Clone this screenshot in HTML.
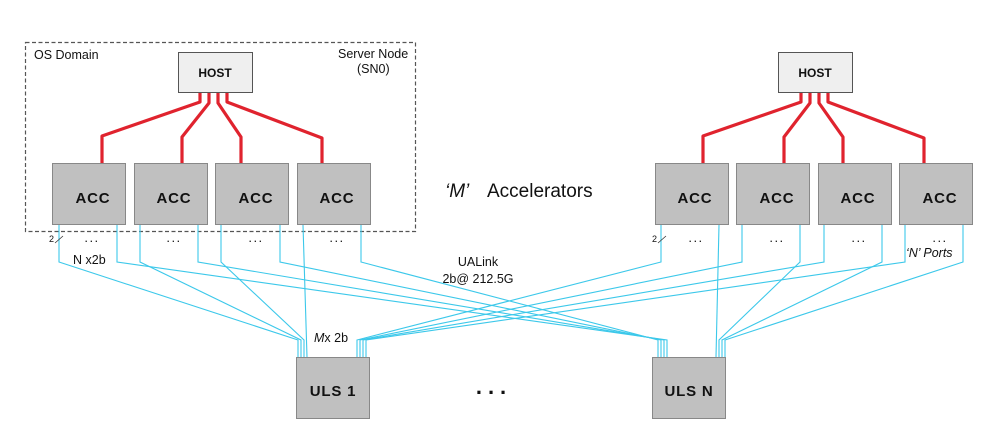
<!DOCTYPE html>
<html><head><meta charset="utf-8"><style>
html,body{margin:0;padding:0;background:#fff;}
svg{display:block;font-family:"Liberation Sans",Arial,sans-serif;}
</style></head><body>
<svg width="1000" height="435" viewBox="0 0 1000 435" xmlns="http://www.w3.org/2000/svg">
<rect x="25.5" y="42.5" width="390" height="189" fill="none" stroke="#555" stroke-width="1.2" stroke-dasharray="4,2.5"/>
<text x="34" y="59" font-size="12.5" fill="#111">OS  Domain</text>
<text x="338" y="58" font-size="12.5" fill="#111">Server Node</text>
<text x="357" y="73" font-size="12.5" fill="#111">(SN0)</text>

<g fill="none" stroke="#3cc8ea" stroke-width="1.1">
<polyline points="59,225 59,262 298,340 298,357"/>
<polyline points="140,225 140,262 301,340 301,357"/>
<polyline points="221,225 221,262 304,340 304,357"/>
<polyline points="303,225 307,357"/>
<polyline points="117,225 117,262 667,340 667,357"/>
<polyline points="198,225 198,262 664,340 664,357"/>
<polyline points="280,225 280,262 661,340 661,357"/>
<polyline points="361,225 361,262 658,340 658,357"/>
<polyline points="661,225 661,262 357,340 357,357"/>
<polyline points="742,225 742,262 360,340 360,357"/>
<polyline points="824,225 824,262 363,340 363,357"/>
<polyline points="905,225 905,262 366,340 366,357"/>
<polyline points="719,225 716,357"/>
<polyline points="800,225 800,262 719,340 719,357"/>
<polyline points="882,225 882,262 722,340 722,357"/>
<polyline points="963,225 963,262 725,340 725,357"/>
</g>

<g fill="none" stroke="#e0232e" stroke-width="3.2" stroke-linejoin="round">
<polyline points="200,92 200,102 102,136 102,163"/>
<polyline points="209,92 209,103 182,137 182,163"/>
<polyline points="218,92 218,103 241,137 241,163"/>
<polyline points="227,92 227,102 322,138 322,163"/>
<polyline points="801,92 801,102 703,136 703,163"/>
<polyline points="810,92 810,103 784,137 784,163"/>
<polyline points="819,92 819,103 843,137 843,163"/>
<polyline points="828,92 828,102 924,138 924,163"/>
</g>

<g stroke="#555" stroke-width="1">
<rect x="178.5" y="52.5" width="74" height="40" fill="#efefef"/>
<rect x="778.5" y="52.5" width="74" height="40" fill="#efefef"/>
</g>
<g font-size="12" font-weight="bold" text-anchor="middle" fill="#111">
<text x="215" y="77">HOST</text>
<text x="815" y="77">HOST</text>
</g>

<g fill="#c0c0c0" stroke="#888" stroke-width="1">
<rect x="52.5" y="163.5" width="73" height="61"/>
<rect x="134.5" y="163.5" width="73" height="61"/>
<rect x="215.5" y="163.5" width="73" height="61"/>
<rect x="297.5" y="163.5" width="73" height="61"/>
<rect x="655.5" y="163.5" width="73" height="61"/>
<rect x="736.5" y="163.5" width="73" height="61"/>
<rect x="818.5" y="163.5" width="73" height="61"/>
<rect x="899.5" y="163.5" width="73" height="61"/>
<rect x="296.5" y="357.5" width="73" height="61"/>
<rect x="652.5" y="357.5" width="73" height="61"/>
</g>
<g font-size="15" font-weight="bold" text-anchor="middle" fill="#111" letter-spacing="0.8">
<text x="93" y="203">ACC</text>
<text x="174" y="203">ACC</text>
<text x="256" y="203">ACC</text>
<text x="337" y="203">ACC</text>
<text x="695" y="203">ACC</text>
<text x="777" y="203">ACC</text>
<text x="858" y="203">ACC</text>
<text x="940" y="203">ACC</text>
<text x="333" y="396">ULS 1</text>
<text x="689" y="396">ULS N</text>
</g>

<g font-size="13" text-anchor="middle" fill="#111" letter-spacing="1.5">
<text x="92" y="242">...</text>
<text x="174" y="242">...</text>
<text x="256" y="242">...</text>
<text x="337" y="242">...</text>
<text x="696" y="242">...</text>
<text x="777" y="242">...</text>
<text x="859" y="242">...</text>
<text x="940" y="242">...</text>
</g>
<text x="494" y="394" font-size="22" font-weight="bold" text-anchor="middle" fill="#111" letter-spacing="6">...</text>

<g font-size="9" fill="#111">
<text x="49" y="242">2</text>
<text x="652" y="242">2</text>
</g>
<g stroke="#333" stroke-width="0.8">
<line x1="55" y1="243" x2="63" y2="236"/>
<line x1="658" y1="243" x2="666" y2="236"/>
</g>

<text x="73" y="264" font-size="12.5" fill="#111">N  x2b</text>
<text x="478" y="266" font-size="12.5" fill="#111" text-anchor="middle">UALink</text>
<text x="478" y="283" font-size="12.5" fill="#111" text-anchor="middle">2b@ 212.5G</text>
<text x="314" y="342" font-size="12.5" fill="#111"><tspan font-style="italic">M</tspan>x 2b</text>
<text x="906" y="257" font-size="12.5" font-style="italic" fill="#111">‘N’ Ports</text>
<text x="445" y="197" font-size="19" font-style="italic" fill="#111">‘M’</text>
<text x="487" y="197" font-size="19" fill="#111">Accelerators</text>
</svg>
</body></html>
